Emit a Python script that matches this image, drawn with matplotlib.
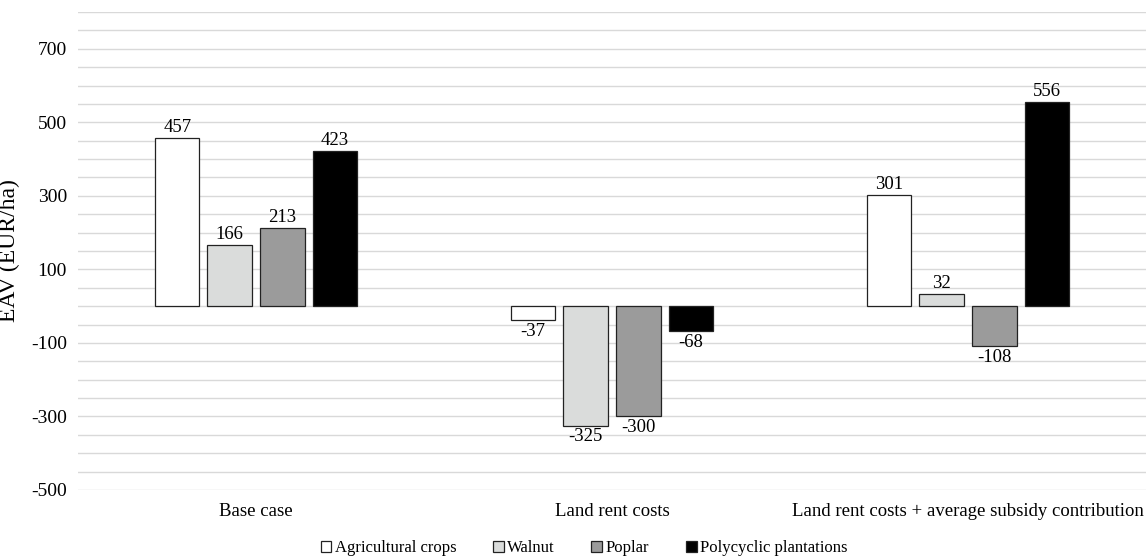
import numpy as np
import matplotlib.pyplot as plt

plt.rcParams['font.family'] = ['Liberation Serif', 'DejaVu Serif']
plt.rcParams['axes.unicode_minus'] = False

scenarios = ['Base case', 'Land rent costs', 'Land rent costs + average subsidy contribution']
series = ['Agricultural crops', 'Walnut', 'Poplar', 'Polycyclic plantations']
agri = [457, -37, 301]
walnut = [166, -325, 32]
poplar = [213, -300, -108]
polycyclic = [423, -68, 556]
colors = ['#ffffff', '#dadcdb', '#9b9b9b', '#000000']

fig = plt.figure(figsize=(11.46, 5.6), dpi=100)
ax = fig.add_axes([78 / 1146, 1 - 490 / 560, 1068 / 1146, 478 / 560])

x = np.arange(len(scenarios))
pitch = 0.1475
width = 0.125
for i, (vals, name, c) in enumerate(zip([agri, walnut, poplar, polycyclic], series, colors)):
    pos = x + (i - 1.5) * pitch
    bars = ax.bar(pos, vals, width, color=c, edgecolor='#222222', linewidth=0.9,
                  label=name, zorder=3)
    for b, v in zip(bars, vals):
        off = 1.5 if v >= 0 else -2
        ax.annotate(str(v), (b.get_x() + b.get_width() / 2, v), xytext=(0, off),
                    textcoords='offset points', ha='center',
                    va='bottom' if v >= 0 else 'top', fontsize=13.5)

ax.set_xlim(-0.5, 2.5)
ax.set_ylim(-500, 800)
ax.set_yticks(np.arange(-500, 701, 200))
ax.set_yticks(np.arange(-500, 801, 50), minor=True)
ax.grid(axis='y', which='both', color='#d9d9d9', linewidth=1, zorder=0)
ax.set_xticks(x)
ax.set_xticklabels(scenarios)
ax.tick_params(axis='both', which='both', length=0, labelsize=14)
ax.tick_params(axis='x', labelsize=13.5, pad=9)
ax.tick_params(axis='y', pad=8)
for s in ax.spines.values():
    s.set_visible(False)
ax.set_ylabel('EAV (EUR/ha)', fontsize=17)
ax.yaxis.set_label_coords(-58 / 1068, 0.5)

ax.legend(loc='center', bbox_to_anchor=((584 - 78) / 1068, -58 / 478), ncol=4,
          frameon=False, fontsize=12, handlelength=0.65, handleheight=0.65,
          handletextpad=0.2, columnspacing=2.2)

fig.savefig('out.png', dpi=100)
